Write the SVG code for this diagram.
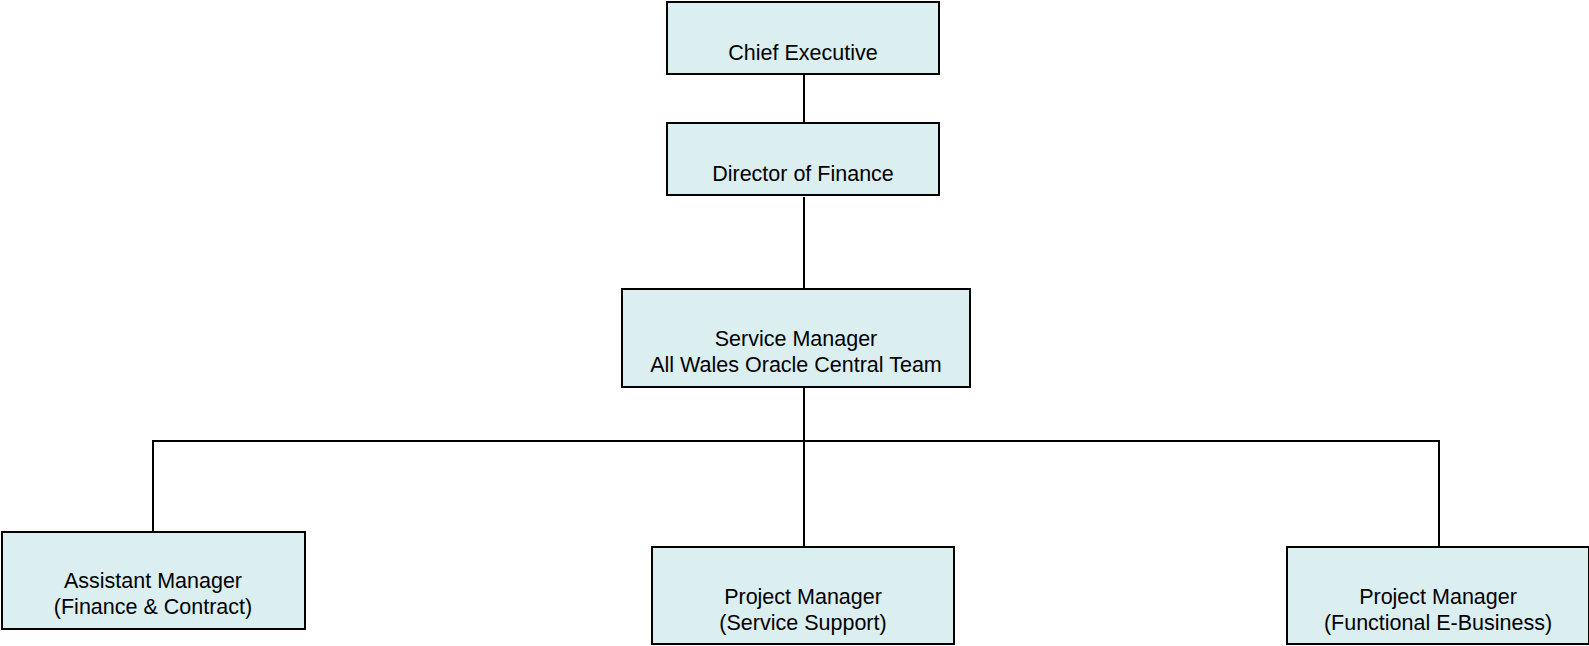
<svg xmlns="http://www.w3.org/2000/svg" width="1589" height="646" viewBox="0 0 1589 646">
<style>
.box{fill:#DBEEF0;stroke:#000;stroke-width:2}
.t{font-family:"Liberation Sans",Arial,sans-serif;font-size:21.5px;fill:#000;text-anchor:middle}
.c{stroke:#000;stroke-width:2;fill:none}
</style>
<rect width="1589" height="646" fill="#fff"/>
<g id="connectors">
<line class="c" x1="804" y1="74" x2="804" y2="123"/>
<line class="c" x1="804" y1="197" x2="804" y2="289"/>
<line class="c" x1="804" y1="381" x2="804" y2="547"/>
<polyline class="c" points="153,532 153,441 1439,441 1439,547"/>
</g>
<g id="chief">
<rect class="box" x="667" y="2" width="272" height="72"/>
<text class="t" x="803" y="60">Chief Executive</text>
</g>
<g id="director">
<rect class="box" x="667" y="123" width="272" height="72"/>
<text class="t" x="803" y="181">Director of Finance</text>
</g>
<g id="service">
<rect class="box" x="622" y="289" width="348" height="98"/>
<text class="t" x="796" y="346">Service Manager</text>
<text class="t" x="796" y="372">All Wales Oracle Central Team</text>
</g>
<g id="assistant">
<rect class="box" x="2" y="532" width="303" height="97"/>
<text class="t" x="153" y="588">Assistant Manager</text>
<text class="t" x="153" y="614">(Finance &amp; Contract)</text>
</g>
<g id="pm-service">
<rect class="box" x="652" y="547" width="302" height="97"/>
<text class="t" x="803" y="604">Project Manager</text>
<text class="t" x="803" y="630">(Service Support)</text>
</g>
<g id="pm-functional">
<rect class="box" x="1287" y="547" width="302" height="97"/>
<text class="t" x="1438" y="604">Project Manager</text>
<text class="t" x="1438" y="630">(Functional E-Business)</text>
</g>
</svg>
